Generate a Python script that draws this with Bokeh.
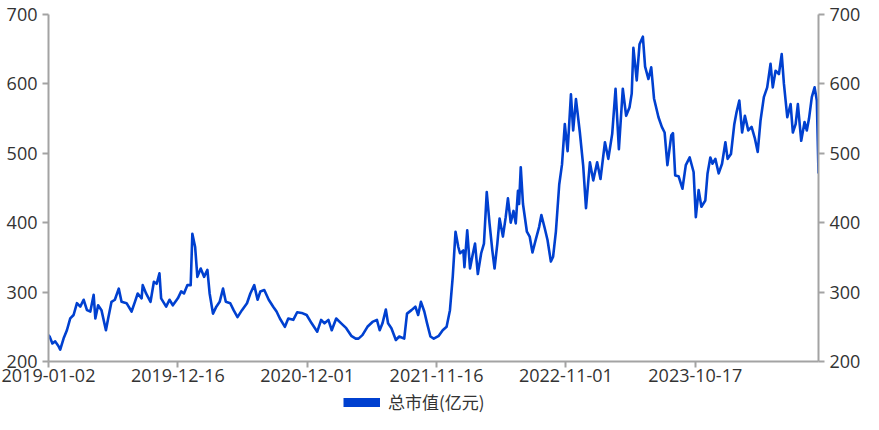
from bokeh.plotting import figure
from bokeh.layouts import column
from bokeh.models import Range1d, LinearAxis, FixedTicker, Legend, LegendItem, ColumnDataSource
from bokeh.embed import file_html
from bokeh.resources import INLINE

# ---- data (trading-day index, total market value in 亿元) ----
day_index = [0, 2, 7, 12, 18, 21, 27, 33, 39, 45, 51, 57, 63, 69, 75, 81, 84, 89, 95, 103, 107, 113, 119, 126,
             131, 140, 149, 155, 160, 167, 169, 175, 183, 189, 194, 199, 202, 211, 217, 223, 232, 238, 243, 249,
             255, 258, 263, 267, 273, 279, 285, 289, 295, 301, 307, 313, 318, 326, 332, 339, 347, 356, 362, 369,
             375, 380, 387, 395, 403, 409, 415, 424, 430, 439, 446, 454, 463, 472, 482, 489, 495, 502, 508, 516,
             525, 534, 543, 551, 556, 563, 572, 581, 589, 594, 599, 605, 609, 615, 623, 629, 638, 643, 651, 658,
             663, 668, 674, 679, 685, 691, 700, 707, 714, 720, 725, 730, 735, 738, 744, 746, 751, 756, 761, 765,
             770, 776, 781, 786, 791, 796, 800, 805, 809, 815, 820, 824, 829, 834, 838, 842, 844, 847, 851, 858,
             863, 868, 874, 880, 884, 890, 895, 901, 905, 910, 916, 921, 926, 931, 937, 941, 946, 953, 959, 964,
             971, 977, 984, 990, 998, 1004, 1011, 1017, 1023, 1030, 1036, 1042, 1046, 1049, 1055, 1060, 1066,
             1070, 1076, 1081, 1086, 1094, 1100, 1105, 1110, 1117, 1120, 1124, 1130, 1137, 1143, 1150, 1157,
             1161, 1166, 1171, 1178, 1182, 1187, 1191, 1196, 1202, 1208, 1214, 1218, 1224, 1230, 1234, 1239,
             1244, 1249, 1255, 1261, 1267, 1272, 1277, 1283, 1289, 1295, 1299, 1304, 1310, 1315, 1319, 1325,
             1331, 1335, 1340, 1344, 1350, 1356, 1360, 1364, 1369, 1374, 1378, 1381]
market_cap = [238, 236, 226, 229, 222, 217, 233, 245, 262, 267, 284, 279, 289, 274, 272, 296, 262, 281, 274, 245,
              262, 286, 289, 305, 286, 284, 272, 286, 298, 291, 310, 298, 286, 315, 312, 327, 291, 279, 289, 281,
              291, 301, 298, 310, 310, 384, 365, 322, 334, 322, 332, 298, 269, 279, 286, 305, 286, 284, 274, 264,
              274, 284, 298, 310, 289, 301, 303, 289, 279, 272, 262, 250, 262, 260, 271, 270, 267, 255, 243, 260,
              255, 260, 245, 262, 255, 248, 237, 233, 233, 238, 250, 257, 260, 245, 255, 275, 255, 248, 231, 236,
              233, 269, 274, 279, 267, 286, 272, 255, 236, 233, 237, 245, 250, 274, 322, 387, 365, 356, 360, 336,
              389, 334, 355, 370, 326, 356, 370, 444, 399, 360, 334, 370, 406, 380, 408, 435, 400, 417, 399, 446,
              427, 480, 427, 387, 380, 357, 376, 394, 411, 392, 375, 344, 351, 387, 455, 484, 542, 503, 585, 533,
              578, 530, 482, 421, 487, 461, 487, 463, 516, 492, 528, 593, 506, 593, 554, 566, 586, 652, 605, 657,
              668, 625, 607, 624, 579, 552, 538, 530, 483, 526, 529, 468, 467, 449, 483, 494, 473, 408, 447, 423,
              432, 471, 494, 485, 492, 471, 485, 516, 492, 499, 542, 559, 576, 530, 554, 533, 538, 521, 502, 547,
              581, 595, 629, 595, 619, 614, 643, 600, 552, 571, 530, 542, 571, 518, 545, 533, 550, 581, 595, 576,
              471]

x_tick_index = [0, 232, 464, 696, 928, 1160]
x_tick_labels = ["2019-01-02", "2019-12-16", "2020-12-01", "2021-11-16", "2022-11-01", "2023-10-17"]
y_ticks = [200, 300, 400, 500, 600, 700]
series_name = "总市值(亿元)"

LINE_COLOR = "#0040d0"
AXIS_COLOR = "#a3a3a3"
TEXT_COLOR = "#333333"
TICK_FONT = "Open Sans"
CJK_FONT = "Noto Sans CJK SC"

W = 863
MAIN_H = 389
LEG_H = 25

p = figure(width=W, height=MAIN_H, output_backend="svg", toolbar_location=None,
           x_range=Range1d(0, day_index[-1]), y_range=Range1d(y_ticks[0], y_ticks[-1]),
           min_border_left=48, min_border_right=42, min_border_top=14, min_border_bottom=28)
p.outline_line_color = None
p.grid.visible = False
p.background_fill_color = "white"
p.border_fill_color = "white"

src = ColumnDataSource(dict(x=day_index, y=market_cap))
p.line("x", "y", source=src, line_color=LINE_COLOR, line_width=2.6, line_join="round")


def style_axis(ax, standoff):
    ax.axis_line_color = AXIS_COLOR
    ax.axis_line_width = 2
    ax.major_tick_line_color = AXIS_COLOR
    ax.major_tick_line_width = 2
    ax.major_tick_in = 0
    ax.major_tick_out = 6
    ax.minor_tick_line_color = None
    ax.major_label_text_font = TICK_FONT
    ax.major_label_text_font_size = "18px"
    ax.major_label_text_color = TEXT_COLOR
    ax.major_label_standoff = standoff


xa = p.xaxis[0]
xa.ticker = FixedTicker(ticks=x_tick_index)
xa.major_label_overrides = {t: lab for t, lab in zip(x_tick_index, x_tick_labels)}
style_axis(xa, 1)

ya = p.yaxis[0]
ya.ticker = FixedTicker(ticks=y_ticks)
style_axis(ya, 5)

yr = LinearAxis(ticker=FixedTicker(ticks=y_ticks))
style_axis(yr, 5)
p.add_layout(yr, "right")

# ---- legend strip underneath the chart (its range shows none of the data) ----
lf = figure(width=W, height=LEG_H, output_backend="svg", toolbar_location=None,
            x_range=Range1d(-2, -1), y_range=Range1d(0, 1), x_axis_type=None, y_axis_type=None,
            min_border=0)
lf.outline_line_color = None
lf.grid.visible = False
lf.border_fill_color = "white"
lf.background_fill_color = "white"
swatch = lf.line("x", "y", source=src, line_color=LINE_COLOR, line_width=9)
legend = Legend(items=[LegendItem(label=series_name, renderers=[swatch])],
                location=(295, 0), orientation="horizontal",
                glyph_width=37, glyph_height=12, label_standoff=8,
                padding=0, margin=0, spacing=0,
                label_text_font=CJK_FONT, label_text_font_size="17px",
                label_text_color=TEXT_COLOR,
                background_fill_alpha=0, border_line_color=None)
lf.add_layout(legend, "center")

layout = column(p, lf, spacing=0)
open("out.html", "w").write(file_html(layout, INLINE))
